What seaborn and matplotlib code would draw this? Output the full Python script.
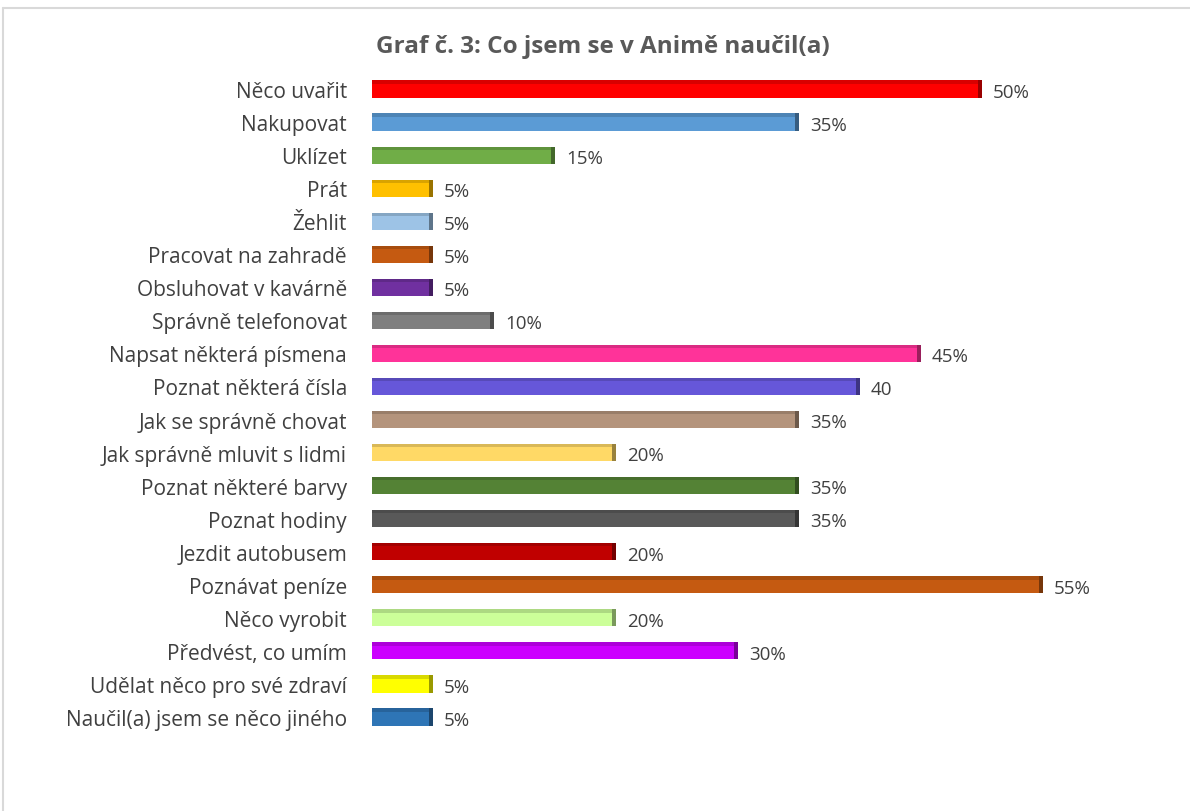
import matplotlib
matplotlib.use("Agg")
import matplotlib.pyplot as plt
import matplotlib.colors as mcolors
import numpy as np
import pandas as pd
import seaborn as sns

categories = [
    "Něco uvařit", "Nakupovat", "Uklízet", "Prát", "Žehlit",
    "Pracovat na zahradě", "Obsluhovat v kavárně", "Správně telefonovat",
    "Napsat některá písmena", "Poznat některá čísla", "Jak se správně chovat",
    "Jak správně mluvit s lidmi", "Poznat některé barvy", "Poznat hodiny",
    "Jezdit autobusem", "Poznávat peníze", "Něco vyrobit", "Předvést, co umím",
    "Udělat něco pro své zdraví", "Naučil(a) jsem se něco jiného",
]
values = [50, 35, 15, 5, 5, 5, 5, 10, 45, 40, 35, 20, 35, 35, 20, 55, 20, 30, 5, 5]
value_labels = ["50%", "35%", "15%", "5%", "5%", "5%", "5%", "10%", "45%", "40",
                "35%", "20%", "35%", "35%", "20%", "55%", "20%", "30%", "5%", "5%"]
colors = [
    "#FF0000", "#5B9BD5", "#70AD47", "#FFC000", "#9DC3E6", "#C55A11", "#7030A0",
    "#7F7F7F", "#FF3399", "#6657D9", "#B4947C", "#FFD966", "#548235", "#595959",
    "#C00000", "#C55A11", "#CCFF99", "#CC00FF", "#FFFF00", "#2E75B6",
]
title = "Graf č. 3: Co jsem se v Animě naučil(a)"

df = pd.DataFrame({"cat": categories, "val": values})

sns.set_style("white")
plt.rcParams["font.family"] = ["Open Sans", "DejaVu Sans"]

fig = plt.figure(figsize=(11.9, 8.12), dpi=100)
ax = fig.add_axes([372 / 1190, 0.0954, 793 / 1190, 0.8141])

sns.barplot(data=df, x="val", y="cat", hue="cat", palette=dict(zip(categories, colors)),
            orient="h", width=0.52, legend=False, saturation=1, ax=ax, linewidth=0)

# dark end cap + darker top edge for the 3D look
ypos = np.arange(len(categories))
for y, v, c in zip(ypos, values, colors):
    rgb = np.array(mcolors.to_rgb(c))
    ax.barh(y, 0.3, left=v - 0.3, height=0.52, color=rgb * 0.6, linewidth=0)
    ax.barh(y - 0.21, v - 0.3, height=0.1, color=rgb * 0.85, linewidth=0)
    ax.annotate(value_labels[y], (v, y), xytext=(8, -2), textcoords="offset points",
                va="center", ha="left", fontsize=13.5, color="#404040")

ax.set_xlim(0, 65)
ax.set_ylim(len(categories) - 0.5, -0.5)
ax.set_xlabel("")
ax.set_ylabel("")
ax.set_xticks([])
ax.tick_params(axis="y", length=0, pad=18, labelsize=15, labelcolor="#404040")
sns.despine(ax=ax, left=True, bottom=True)

fig.text(603 / 1190, 1 - 47 / 812, title, ha="center", va="center",
         fontsize=17.5, fontweight="bold", color="#595959")

# chart frame lines (top and left)
fig.add_artist(plt.Line2D([3 / 1190, 1], [1 - 9 / 812, 1 - 9 / 812], color="#D9D9D9", lw=1.5))
fig.add_artist(plt.Line2D([3 / 1190, 3 / 1190], [0, 1 - 9 / 812], color="#D9D9D9", lw=1.5))

fig.savefig("out.png", dpi=100, facecolor="white")
